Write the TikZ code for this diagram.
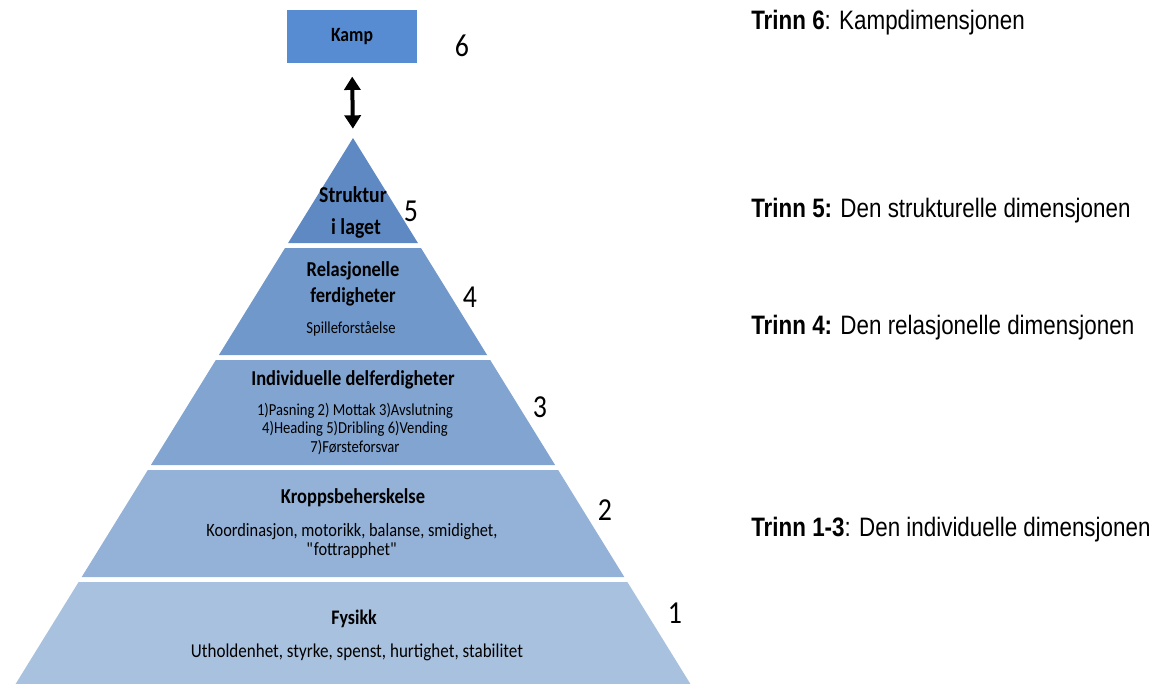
\documentclass[tikz,border=0pt]{standalone}
\usepackage{fontspec}
\setmainfont[FakeStretch=0.87]{Carlito}
\newfontfamily\arialfont[FakeStretch=0.84]{Liberation Sans}
\usetikzlibrary{arrows.meta,positioning}

\definecolor{kampblue}{HTML}{578CD3}
\definecolor{lvlfive}{HTML}{5F89C3}
\definecolor{lvlfour}{HTML}{7098CA}
\definecolor{lvlthree}{HTML}{81A4D0}
\definecolor{lvltwo}{HTML}{94B2D8}
\definecolor{lvlone}{HTML}{A8C1DF}

\newcommand{\fsz}[2]{\fontsize{#1}{#2}\selectfont}

\begin{document}
\begin{tikzpicture}[x=0.75pt,y=-0.75pt,>=Latex,
  head/.style={font=\bfseries\fsz{15.9}{20},align=center,inner sep=0pt},
  sub/.style={font=\fsz{12.6}{14},align=center,inner sep=0pt},
  num/.style={font=\fsz{24}{26},inner sep=0pt},
  trinn/.style={font=\arialfont\fsz{20}{22},anchor=west,inner sep=0pt}]
\useasboundingbox (0,0) rectangle (1162,684);
% pyramid layers, top y / bottom y
\foreach \t/\b/\c in {248/355/lvlfour,360/465/lvlthree,470/577/lvltwo,582/684/lvlone}
  \fill[\c] ({353-0.618*(\t-138)},\t) -- ({353+0.618*(\t-138)},\t)
    -- ({353+0.618*(\b-138)},\b) -- ({353-0.618*(\b-138)},\b) -- cycle;
\fill[lvlfive] (353,138) -- (417.9,243) -- (288.1,243) -- cycle;
\coordinate (apex) at (353,138);

\node[fill=kampblue,minimum width=97.5pt,minimum height=39.75pt,inner sep=0pt,
  font=\bfseries\fsz{15.2}{17},text depth=0pt] (kamp) at (352,36.5) {\raisebox{3pt}{Kamp}};
\draw[{Triangle[width=12pt,length=10pt]}-{Triangle[width=12pt,length=10pt]},line width=3pt,
  shorten <=10pt,shorten >=7pt] (kamp.south) -- (apex);

% layer texts
\node[head,font=\bfseries\fsz{17}{19}] (struktur) at (353,195) {Struktur};
\node[head,font=\bfseries\fsz{17}{19}] (ilaget) at (356,228) {i laget};
\node[head] (rel) at (353,284) {Relasjonelle\\ferdigheter};
\node[sub] (spill) at (351,329) {Spilleforståelse};
\node[head] (indiv) at (353,380) {Individuelle delferdigheter};
\node[sub] (deler) at (355,429) {1)Pasning 2) Mottak 3)Avslutning\\4)Heading 5)Dribling 6)Vending\\7)Førsteforsvar};
\node[head] (kropp) at (353,498) {Kroppsbeherskelse};
\node[sub,font=\fsz{14.1}{14.5}] (koord) at (352,541) {Koordinasjon, motorikk, balanse, smidighet,\\\textquotedbl fottrapphet\textquotedbl};
\node[head,font=\bfseries\fsz{15.5}{17}] (fysikk) at (354,619) {Fysikk};
\node[sub,font=\fsz{14.7}{16}] (uthold) at (357,652) {Utholdenhet, styrke, spenst, hurtighet, stabilitet};

% level numbers
\node[num] (n6) at (462,46) {6};
\node[num] (n5) at (411,211) {5};
\node[num] (n4) at (470,297) {4};
\node[num] (n3) at (540,407) {3};
\node[num] (n2) at (605,510) {2};
\node[num] (n1) at (675,613) {1};

% right column
\node[trinn] (t6) at (751,23) {\textbf{Trinn 6}: Kampdimensjonen};
\node[trinn] (t5) at (751,211) {\textbf{Trinn 5:} Den strukturelle dimensjonen};
\node[trinn] (t4) at (751,328) {\textbf{Trinn 4:} Den relasjonelle dimensjonen};
\node[trinn] (t13) at (751,530) {\textbf{Trinn 1-3}: Den individuelle dimensjonen};
\end{tikzpicture}
\end{document}
